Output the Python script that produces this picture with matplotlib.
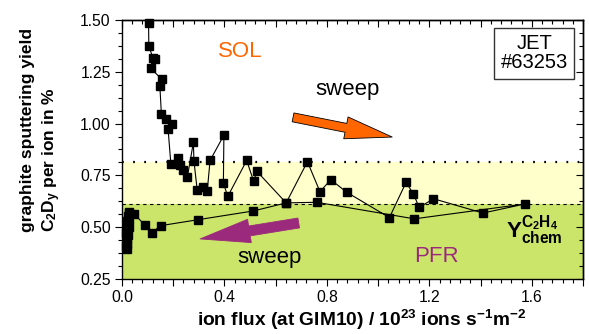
import matplotlib
matplotlib.use("Agg")
from matplotlib import pyplot as plt
from matplotlib.patches import FancyArrowPatch, ArrowStyle
from matplotlib.ticker import MultipleLocator, FuncFormatter

plt.rcParams['font.family'] = ['Liberation Sans', 'DejaVu Sans']
plt.rcParams['mathtext.fontset'] = 'custom'
plt.rcParams['mathtext.rm'] = 'Liberation Sans'
plt.rcParams['mathtext.bf'] = 'Liberation Sans:bold'
plt.rcParams['mathtext.it'] = 'Liberation Sans:italic'

# ion flux (10^23 ions s^-1 m^-2), in time order of the sweep
flux = [0.104, 0.105, 0.122, 0.129, 0.113, 0.155, 0.148, 0.154, 0.172, 0.195,
        0.180, 0.191, 0.220, 0.227, 0.239, 0.255, 0.279, 0.281, 0.294, 0.318,
        0.333, 0.344, 0.398, 0.396, 0.413, 0.487, 0.514, 0.527, 0.641, 0.724,
        0.773, 0.815, 0.878, 1.044, 1.109, 1.138, 1.160, 1.216, 1.409, 1.574,
        1.141, 0.760, 0.641, 0.513, 0.298, 0.151, 0.116, 0.090, 0.047, 0.029,
        0.024, 0.020, 0.018, 0.017, 0.019, 0.016, 0.018, 0.021, 0.024, 0.027,
        0.026, 0.028]
# C2Dy yield in %
yld = [1.487, 1.373, 1.315, 1.311, 1.267, 1.214, 1.182, 1.047, 1.023, 0.999,
       0.975, 0.806, 0.833, 0.801, 0.777, 0.740, 0.909, 0.820, 0.677, 0.692,
       0.674, 0.822, 0.944, 0.713, 0.648, 0.822, 0.722, 0.769, 0.617, 0.816,
       0.671, 0.729, 0.668, 0.546, 0.716, 0.660, 0.595, 0.637, 0.568, 0.612,
       0.540, 0.620, 0.617, 0.578, 0.536, 0.507, 0.472, 0.509, 0.565, 0.571,
       0.555, 0.530, 0.500, 0.470, 0.440, 0.410, 0.395, 0.420, 0.460, 0.500,
       0.540, 0.570]

y_pfr_top = 0.61
y_sol_low = 0.815

fig = plt.figure(figsize=(5.89, 3.34), dpi=100)
ax = fig.add_axes([0.207, 0.165, 0.783, 0.775])

ax.set_xlim(0, 1.8)
ax.set_ylim(0.25, 1.50)

ax.axhspan(0.25, y_pfr_top, color='#cbe56b', zorder=0, lw=0)
ax.axhspan(y_pfr_top, y_sol_low, color='#ffffcc', zorder=0, lw=0)
ax.axhline(y_sol_low, color='k', lw=1.6, ls=(0, (0.8, 4.2)), zorder=1)
ax.axhline(y_pfr_top, color='k', lw=0.8, ls=(0, (3, 3.2)), zorder=1)

ax.plot(flux, yld, color='k', lw=0.8, marker='s', ms=6.2, mfc='k', mec='k',
        clip_on=False, zorder=3)

# arrows
orange = '#ff6600'
purple = '#9b2a7c'
ax.add_patch(FancyArrowPatch((0.668, 1.03), (1.055, 0.935),
                             arrowstyle=ArrowStyle.Simple(head_length=34, head_width=16, tail_width=6.5),
                             mutation_scale=1, fc=orange, ec='k', lw=0.6,
                             shrinkA=0, shrinkB=0, zorder=2))
ax.add_patch(FancyArrowPatch((0.690, 0.520), (0.305, 0.443),
                             arrowstyle=ArrowStyle.Simple(head_length=36, head_width=17, tail_width=7.2),
                             mutation_scale=1, fc=purple, ec=purple, lw=0.6,
                             shrinkA=0, shrinkB=0, zorder=2))

ax.text(0.461, 1.346, 'SOL', color=orange, fontsize=16, ha='center', va='center')
ax.text(0.879, 1.163, 'sweep', color='k', fontsize=16, ha='center', va='center')
ax.text(0.578, 0.355, 'sweep', color='k', fontsize=16, ha='center', va='center')
ax.text(1.227, 0.358, 'PFR', color=purple, fontsize=16, ha='center', va='center')
ax.text(1.609, 1.339, 'JET\n#63253', fontsize=14.5, ha='center', va='center',
        multialignment='center', linespacing=1.0,
        bbox=dict(boxstyle='square,pad=0.33', fc='white', ec='#333333', lw=1.0))
ax.text(1.50, 0.449, r'$\mathbf{Y}^{\mathbf{C_2H_4}}_{\mathbf{chem}}$',
        fontsize=16, ha='left', va='baseline')

# ticks
ax.xaxis.set_major_locator(MultipleLocator(0.2))
ax.xaxis.set_minor_locator(MultipleLocator(0.04))
ax.xaxis.set_major_formatter(FuncFormatter(
    lambda v, p: '%.1f' % v if abs(round(v / 0.4) * 0.4 - v) < 1e-6 else ''))
ax.yaxis.set_major_locator(MultipleLocator(0.25))
ax.yaxis.set_minor_locator(MultipleLocator(0.0625))
ax.yaxis.set_major_formatter(FuncFormatter(lambda v, p: '%.2f' % v))

ax.tick_params(which='both', direction='out', width=0.8, labelsize=11.3,
               top=True, right=True)
ax.tick_params(which='major', length=5, pad=3)
ax.tick_params(which='minor', length=3)
ax.tick_params(axis='x', which='both', top=False)
ax.tick_params(axis='y', which='both', right=False)
axt = ax.secondary_xaxis('top')
axt.xaxis.set_major_locator(MultipleLocator(0.2))
axt.xaxis.set_minor_locator(MultipleLocator(0.04))
axt.tick_params(which='both', direction='in', width=0.8, labeltop=False)
axt.tick_params(which='major', length=5)
axt.tick_params(which='minor', length=3)
axr = ax.secondary_yaxis('right')
axr.yaxis.set_major_locator(MultipleLocator(0.25))
axr.yaxis.set_minor_locator(MultipleLocator(0.0625))
axr.tick_params(which='both', direction='in', width=0.8, labelright=False)
axr.tick_params(which='major', length=5)
axr.tick_params(which='minor', length=3)
for s in list(ax.spines.values()) + [axt.spines['top'], axr.spines['right']]:
    s.set_linewidth(1.0)

fig.text(0.046, 0.305, 'graphite sputtering yield', rotation=90, fontsize=12.5,
         fontweight='bold', ha='center', va='bottom')
fig.text(0.088, 0.305, r'C$_\mathbf{2}$D$_\mathbf{y}$ per ion in %', rotation=90,
         fontsize=12.5, fontweight='bold', ha='center', va='bottom')
fig.text(0.613, 0.042,
         r'ion flux (at GIM10) / 10$^{\mathbf{23}}$ ions s$^{\mathbf{-1}}$m$^{\mathbf{-2}}$',
         fontsize=13.8, fontweight='bold', ha='center', va='center')

fig.savefig('out.png', dpi=100)
